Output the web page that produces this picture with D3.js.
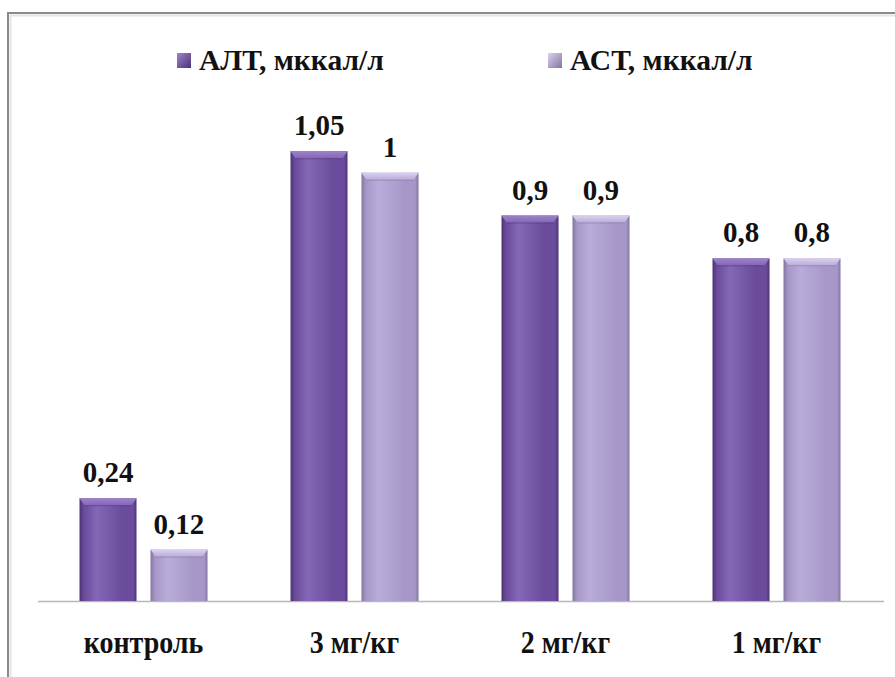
<!DOCTYPE html>
<html>
<head>
<meta charset="utf-8">
<script src="https://cdn.jsdelivr.net/npm/d3@7"></script>
<style>
  html, body { margin: 0; padding: 0; background: #fff; }
  svg { display: block; }
</style>
</head>
<body>
<svg id="chart" width="895" height="677"></svg>
<script>
// Doses (categories) and enzyme activity per series
const categories = ["контроль", "3 мг/кг", "2 мг/кг", "1 мг/кг"];
const seriesNames = ["АЛТ, мккал/л", "АСТ, мккал/л"];
const altValues = [0.24, 1.05, 0.9, 0.8];
const astValues = [0.12, 1, 0.9, 0.8];
const valueLabels = [["0,24", "1,05", "0,9", "0,8"], ["0,12", "1", "0,9", "0,8"]];

const FONT = "Liberation Serif";

const svg = d3.select("#chart");
const W = 895, H = 677;

// Palette: base, light, dark per series
const palette = [
  { base: "#6b4c9c", light: "#8467b6", dark: "#4d3474", top: "#9c83cc" },
  { base: "#a697c8", light: "#b9acd9", dark: "#83759e", top: "#dcd1f0" }
];

const defs = svg.append("defs");
palette.forEach((p, i) => {
  const g = defs.append("linearGradient").attr("id", "body" + i)
    .attr("x1", 0).attr("x2", 1).attr("y1", 0).attr("y2", 0);
  g.append("stop").attr("offset", "0%").attr("stop-color", p.dark);
  g.append("stop").attr("offset", "8%").attr("stop-color", p.base);
  g.append("stop").attr("offset", "30%").attr("stop-color", p.light);
  g.append("stop").attr("offset", "75%").attr("stop-color", p.base);
  g.append("stop").attr("offset", "94%").attr("stop-color", p.base);
  g.append("stop").attr("offset", "100%").attr("stop-color", p.dark);
  const t = defs.append("linearGradient").attr("id", "top" + i)
    .attr("x1", 0).attr("x2", 0).attr("y1", 0).attr("y2", 1);
  t.append("stop").attr("offset", "0%").attr("stop-color", p.top);
  t.append("stop").attr("offset", "100%").attr("stop-color", p.light);
  const lg = defs.append("linearGradient").attr("id", "leg" + i)
    .attr("x1", 0).attr("x2", 1).attr("y1", 0).attr("y2", 1);
  lg.append("stop").attr("offset", "0%").attr("stop-color", p.top);
  lg.append("stop").attr("offset", "100%").attr("stop-color", p.dark);
});

// Outer frame (top and left edges visible)
svg.append("path")
  .attr("d", `M8,${H} L8,13 L${W},13`)
  .attr("fill", "none").attr("stroke", "#8a8a8a").attr("stroke-width", 2);
svg.append("path")
  .attr("d", `M10.5,${H} L10.5,15.5 L${W},15.5`)
  .attr("fill", "none").attr("stroke", "#e4e4e4").attr("stroke-width", 2);

// Scales
const x0 = d3.scaleBand().domain(categories).range([38, 882]).padding(0);
const groupWidth = 128;
const x1 = d3.scaleBand().domain([0, 1]).range([0, groupWidth]).paddingInner(0.197).paddingOuter(0);
const y = d3.scaleLinear().domain([0, 1.2]).range([601, 87]);

// Baseline
svg.append("line")
  .attr("x1", 38).attr("x2", 884)
  .attr("y1", y(0) + 0.5).attr("y2", y(0) + 0.5)
  .attr("stroke", "#b8b8b8").attr("stroke-width", 1.5);

const seriesValues = [altValues, astValues];
const bars = [];
categories.forEach((c, ci) => {
  seriesValues.forEach((vals, si) => {
    bars.push({ cat: c, ci, si, v: vals[ci], label: valueLabels[si][ci] });
  });
});

const gx = d => x0(d.cat) + (x0.bandwidth() - groupWidth) / 2 + x1(d.si);

const barG = svg.append("g").selectAll("g").data(bars).join("g");
barG.append("rect")
  .attr("x", gx)
  .attr("y", d => y(d.v))
  .attr("width", x1.bandwidth())
  .attr("height", d => y(0) - y(d.v))
  .attr("fill", d => `url(#body${d.si})`);
// top bevel
barG.append("path")
  .attr("d", d => {
    const x = gx(d), t = y(d.v), w = x1.bandwidth();
    return `M${x},${t} L${x + w},${t} L${x + w - 5},${t + 7} L${x + 5},${t + 7} Z`;
  })
  .attr("fill", d => `url(#top${d.si})`);
barG.append("line")
  .attr("x1", d => gx(d) + 5).attr("x2", d => gx(d) + x1.bandwidth() - 5)
  .attr("y1", d => y(d.v) + 7.5).attr("y2", d => y(d.v) + 7.5)
  .attr("stroke", d => palette[d.si].dark).attr("stroke-opacity", 0.5);

// Value labels
barG.append("text")
  .attr("x", d => gx(d) + x1.bandwidth() / 2)
  .attr("y", d => y(d.v) - 16)
  .attr("text-anchor", "middle")
  .style("font-family", FONT).style("font-weight", "bold").style("fill", "#111")
  .style("font-size", "29px")
  .text(d => d.label);

// Category labels (slightly tall letterforms)
svg.append("g").selectAll("text").data(categories).join("text")
  .attr("transform", d => `translate(${x0(d) + x0.bandwidth() / 2},653) scale(1,1.15)`)
  .attr("text-anchor", "middle")
  .style("font-family", FONT).style("font-weight", "bold").style("fill", "#111")
  .style("font-size", "28px")
  .text(d => d);

// Legend
const legendX = [177, 548];
const leg = svg.append("g").selectAll("g").data(seriesNames).join("g")
  .attr("transform", (d, i) => `translate(${legendX[i]},0)`);
leg.append("rect")
  .attr("x", 0).attr("y", 53).attr("width", 14).attr("height", 15)
  .attr("fill", (d, i) => `url(#leg${i})`);
leg.append("text")
  .attr("x", 22).attr("y", 70)
  .style("font-family", FONT).style("font-weight", "bold").style("fill", "#111")
  .style("font-size", "29.5px")
  .text(d => d);
</script>
</body>
</html>
